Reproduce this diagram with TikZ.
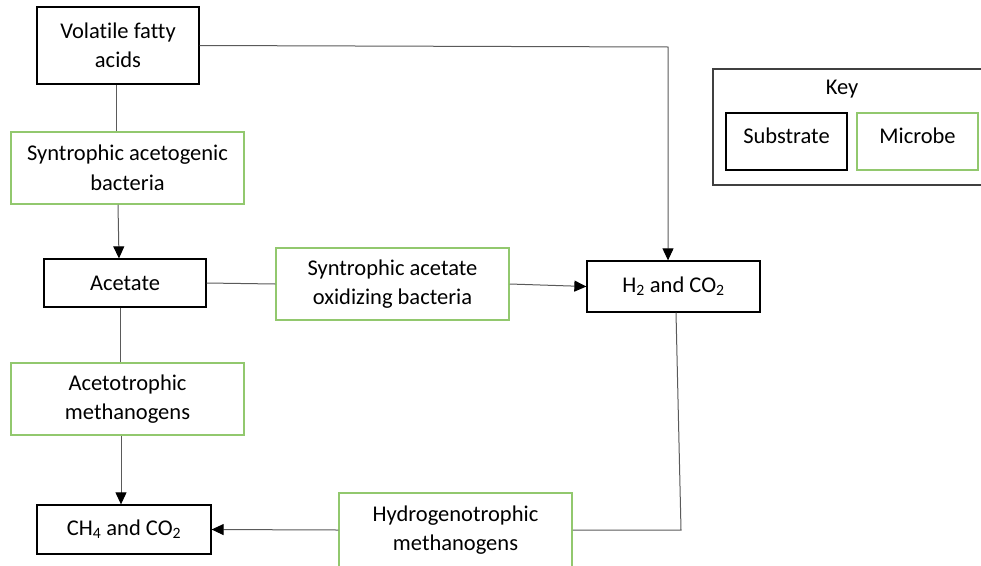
\documentclass[tikz,border=0pt]{standalone}
\usepackage{fontspec}
\setmainfont{Carlito}[Ligatures=NoCommon]
\usetikzlibrary{arrows.meta}
\definecolor{mgreen}{RGB}{146,200,110}
\definecolor{lgray}{RGB}{90,90,90}
\begin{document}
\begin{tikzpicture}[x=1pt,y=-1pt,
  base/.style={inner sep=0pt, align=center, font=\fontsize{22.5}{29.5}\selectfont},
  substrate/.style={base, draw=black, line width=1.3pt},
  microbe/.style={base, draw=mgreen, line width=1.5pt},
  conn/.style={draw=lgray, line width=1pt},
  arr/.style={conn, -{Triangle[length=12pt,width=11pt,color=black]}}]
\useasboundingbox (0,0) rectangle (981,565);
% key
\node[draw=black!75, line width=2pt, minimum width=275pt, minimum height=116pt, anchor=north west] (keybox) at (712,68) {};
\node[base] (keylbl) at (842,89) {Key};
\node[substrate, minimum width=121pt, minimum height=57pt] (ksub) at (786.5,141.5) {};
\node[base] (ksubt) at (786.5,136) {Substrate};
\node[microbe, minimum width=121pt, minimum height=57pt] (kmic) at (917.5,141.5) {};
\node[base] (kmict) at (917.5,136) {Microbe};
% nodes
\node[substrate, minimum width=162pt, minimum height=77pt] (vfa) at (118,45.5) {Volatile fatty\\acids};
\node[microbe, minimum width=233pt, minimum height=72pt] (sab) at (127.5,168) {Syntrophic acetogenic\\bacteria};
\node[substrate, minimum width=162pt, minimum height=48pt] (ace) at (125,283) {Acetate};
\node[microbe, minimum width=233pt, minimum height=72pt] (saob) at (392.5,284) {Syntrophic acetate\\oxidizing bacteria};
\node[substrate, minimum width=173pt, minimum height=51pt] (h2) at (673.5,286.5) {H\textsubscript{2} and CO\textsubscript{2}};
\node[microbe, minimum width=233pt, minimum height=72pt] (am) at (127.5,399) {Acetotrophic\\methanogens};
\node[substrate, minimum width=174pt, minimum height=49pt] (ch4) at (124,529.5) {CH\textsubscript{4} and CO\textsubscript{2}};
\node[microbe, minimum width=233pt, minimum height=74pt] (hm) at (455.5,530) {Hydrogenotrophic\\methanogens};
% connectors
\draw[arr] (vfa.east) -- (668,47) coordinate (c1) -- (c1 |- h2.north);
\draw[conn] (vfa.south -| 116,0) -- (sab.north -| 116,0);
\draw[arr] (sab.south -| 118,0) -- (ace.north -| 119,0);
\draw[conn] (ace.east) -- (saob.west);
\draw[arr] (saob.east) -- (h2.west);
\draw[conn] (ace.south -| 120,0) -- (am.north -| 120,0);
\draw[arr] (am.south -| 121,0) -- (ch4.north -| 121,0);
\draw[conn] (h2.south -| 676,0) -- (681,530) coordinate (c2) -- (hm.east);
\draw[arr] (hm.west) -- (ch4.east);
\end{tikzpicture}
\end{document}
